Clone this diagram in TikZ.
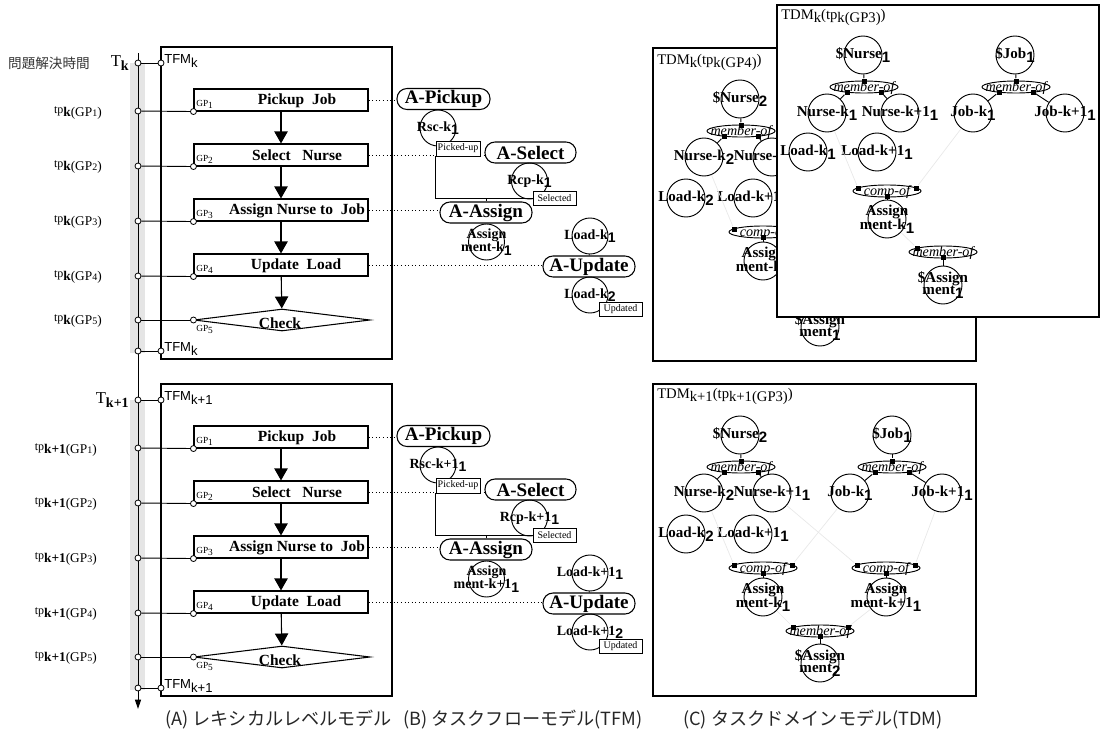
\documentclass[tikz,border=0pt]{standalone}
\usepackage{fontspec}
\setmainfont{Liberation Serif}
\setsansfont{Liberation Sans}
\newfontfamily\jpfont{Noto Sans CJK JP}
\usetikzlibrary{arrows.meta,shapes.geometric,calc}

\newcommand\px{*0.75pt}
\newcommand\sbs[1]{\raisebox{-0.45ex}{#1}}
\newcommand\csub[1]{\raisebox{-0.55ex}{\sffamily\bfseries #1}}
\newcommand\zb[1]{\smash{\makebox[0pt][c]{\raisebox{-0.3em}{#1}}}}
\newcommand\cl[1]{\makebox[0pt][c]{#1}}
\newcommand\cll[2]{\makebox[0pt][c]{\def\arraystretch{0.78}\begin{tabular}{@{}c@{}}#1\\#2\end{tabular}}}
\newcommand\tpl[2]{tp\raisebox{-0.55ex}{\fontsize{10}{10}\selectfont\textbf{#1}(GP{\fontsize{7.5}{8}\selectfont #2})}}

\tikzset{
 ln/.style={line width=0.7pt},
 tcirc/.style={circle, draw, fill=white, minimum size=6\px, inner sep=0pt, line width=0.6pt},
 tfmbox/.style={draw, line width=0.9pt, minimum width=231\px, minimum height=312\px, inner sep=0},
 gpbox/.style={draw, line width=0.8pt, minimum width=174\px, minimum height=22\px, inner sep=0},
 gptext/.style={font=\fontsize{11.6}{12}\selectfont\bfseries, inner sep=0},
 gplab/.style={font=\fontsize{7}{8}\selectfont, inner sep=0, anchor=west},
 tplab/.style={font=\fontsize{9}{10}\selectfont, inner sep=0, anchor=east},
 tfmlab/.style={font=\sffamily\fontsize{9.8}{10}\selectfont, inner sep=0, anchor=west},
 flow/.style={line width=0.8pt, -{Triangle[width=10pt,length=9pt]}},
 anode/.style={draw, line width=0.8pt, rounded corners=7.5pt, minimum height=21\px, minimum width=92\px, inner sep=0, font=\fontsize{14.3}{14}\selectfont\bfseries},
 bcirc/.style={circle, draw, line width=0.7pt, minimum size=36\px, inner sep=0, font=\fontsize{10.5}{11}\selectfont\bfseries},
 stbox/.style={draw, fill=white, line width=0.7pt, minimum width=43\px, minimum height=14\px, inner sep=0, font=\fontsize{7.5}{8}\selectfont},
 ccirc/.style={circle, draw, line width=0.7pt, minimum size=38\px, inner sep=0, font=\fontsize{11.3}{11}\selectfont\bfseries},
 rel/.style={ellipse, draw, fill=white, line width=0.7pt, minimum width=68\px, minimum height=12\px, inner sep=0, font=\fontsize{10.6}{10}\selectfont\itshape},
 sq/.style={rectangle, fill=black, minimum size=5\px, inner sep=0},
 faint/.style={draw=gray!18, line width=0.5pt},
 link/.style={line width=0.7pt},
 dots/.style={dotted, line width=0.7pt},
 tdmbox/.style={draw, line width=0.9pt, fill=white, inner sep=0},
 ttl/.style={anchor=west, inner sep=0, font=\fontsize{11}{11}\selectfont},
 captext/.style={anchor=west, inner sep=0, text=black!85, font=\jpfont\fontsize{13.6}{14}\selectfont},
}

\newcommand\halfblock[4]{%
\begin{scope}[shift={(0,#3)}]
 \node[tfmbox] (#2tfm) at (276.5,203) {};
 \node[gpbox] (#2g1) at (281,100) {};
 \node[gpbox] (#2g2) at (281,155) {};
 \node[gpbox] (#2g3) at (281,210) {};
 \node[gpbox] (#2g4) at (281,265) {};
 \node[diamond, draw, aspect=8, minimum width=176\px, minimum height=22\px, inner sep=0, line width=0.8pt] (#2g5) at (282,320) {};
 \node[gptext] (#2g1t) at (297,100.5) {Pickup\ \ Job};
 \node[gptext] (#2g2t) at (297,155.5) {Select\ \ \ Nurse};
 \node[gptext] (#2g3t) at (297,210.5) {Assign Nurse to\ \ Job};
 \node[gptext] (#2g4t) at (296,265.5) {Update\ \ Load};
 \node[gptext] (#2g5t) at (280,323) {Check};
 \draw[flow] (#2g1) -- (#2g2);
 \draw[flow] (#2g2) -- (#2g3);
 \draw[flow] (#2g3) -- (#2g4);
 \draw[flow] (#2g4) -- (#2g5);
 \node[gplab] (#2l1) at (196,104) {GP\sbs{1}};
 \node[gplab] (#2l2) at (196,159) {GP\sbs{2}};
 \node[gplab] (#2l3) at (196,214) {GP\sbs{3}};
 \node[gplab] (#2l4) at (196,269) {GP\sbs{4}};
 \node[gplab] (#2l5) at (196,329) {GP\sbs{5}};
 % time points
 \node[tcirc] (#2t0) at (138,63) {};
 \node[tcirc] (#2f0) at (161,63) {};
 \node[tcirc] (#2t1) at (138,111) {};
 \node[tcirc] (#2t2) at (138,166) {};
 \node[tcirc] (#2t3) at (138,221) {};
 \node[tcirc] (#2t4) at (138,276) {};
 \node[tcirc] (#2t5) at (138,320) {};
 \node[tcirc] (#2t6) at (138,351) {};
 \node[tcirc] (#2f6) at (161,351) {};
 \node[tcirc] (#2c1) at (#2g1.south west) {};
 \node[tcirc] (#2c2) at (#2g2.south west) {};
 \node[tcirc] (#2c3) at (#2g3.south west) {};
 \node[tcirc] (#2c4) at (#2g4.south west) {};
 \node[tcirc] (#2c5) at (#2g5.west) {};
 \draw[ln] (#2t0) -- (#2f0);
 \draw[ln] (#2t6) -- (#2f6);
 \draw[ln] (#2t1) -- (#2c1);
 \draw[ln] (#2t2) -- (#2c2);
 \draw[ln] (#2t3) -- (#2c3);
 \draw[ln] (#2t4) -- (#2c4);
 \draw[ln] (#2t5) -- (#2c5);
 \node[tfmlab] (#2fl0) at (164,61) {TFM\sbs{#1}};
 \node[tfmlab] (#2fl6) at (164,349) {TFM\sbs{#1}};
 \node[anchor=east, inner sep=0, font=\fontsize{12.5}{12}\selectfont] (#2T) at (129,63) {T\sbs{\fontsize{10.5}{10}\selectfont\textbf{#1}}};
 \node[tplab] (#2p1) at (#4,113) {\tpl{#1}{1}};
 \node[tplab] (#2p2) at (#4,167) {\tpl{#1}{2}};
 \node[tplab] (#2p3) at (#4,222) {\tpl{#1}{3}};
 \node[tplab] (#2p4) at (#4,277) {\tpl{#1}{4}};
 \node[tplab] (#2p5) at (#4,321) {\tpl{#1}{5}};
 % column B
 \node[anode, minimum width=93\px] (#2aP) at (443.5,99) {A-Pickup};
 \node[anode, minimum width=91\px] (#2aS) at (530.5,152.5) {A-Select};
 \node[anode] (#2aA) at (486,212.5) {A-Assign};
 \node[anode] (#2aU) at (589,266.5) {A-Update};
 \node[bcirc] (#2rsc) at (438,128) {\cl{Rsc-#1\csub{1}}};
 \node[bcirc] (#2rcp) at (529.5,181) {\cl{Rcp-#1\csub{1}}};
 \node[bcirc] (#2asg) at (486.5,242) {\cll{Assign}{ment-#1\csub{1}}};
 \node[bcirc] (#2ld1) at (590,236) {\cl{Load-#1\csub{1}}};
 \node[bcirc] (#2ld2) at (590,295) {\cl{Load-#1\csub{2}}};
 \draw[dots] (#2g1.east) -- (#2g1.east -| #2aP.west);
 \draw[dots] (#2g2.east) -- (#2g2.east -| #2aS.west);
 \draw[dots] (#2g3.east) -- (#2g3.east -| #2aA.west);
 \draw[dots] (#2g4.east) -- (#2g4.east -| #2aU.west);
 \node[stbox, minimum width=44\px, minimum height=15\px] (#2pk) at (458,148.5) {Picked-up};
 \node[stbox] (#2se) at (554.5,198) {Selected};
 \node[stbox] (#2up) at (620.5,309) {Updated};
 \draw[link] (#2pk.south west) |- (#2se.west);
 \coordinate (#2j) at (#2aA.north |- #2se.west);
 \draw[link] (#2aA) -- (#2j);
 \draw[link] (#2ld1) -- (#2aU);
\end{scope}}

\begin{document}
\begin{tikzpicture}[x=0.75pt,y=-0.75pt]
\useasboundingbox (0,0) rectangle (1101,739);
% gray bars
\fill[gray!20] (130,63) rectangle (145,353);
\fill[gray!20] (130,400) rectangle (145,690);
% axis
\coordinate (axtop) at (138,53);
\coordinate (axbot) at (138,709);
\draw[ln, -{Triangle[width=4.5pt,length=7pt]}] (axtop) -- (axbot);
\node[inner sep=0, text=black!80, font=\jpfont\fontsize{10.2}{11}\selectfont] (ylab) at (49,63) {問題解決時間};

\halfblock{k}{t}{0}{102}
\halfblock{k+1}{b}{337}{97}

% ===== back TDM box (GP4) =====
\node[tdmbox, minimum width=323\px, minimum height=313\px] (kbox) at (814.5,204.5) {};
\node[ttl] (kttl) at (657,62) {TDM\sbs{k}(tp\sbs{k(GP4)})};
\node[ccirc] (kN) at (740,99) {\cl{\$Nurse\csub{2}}};
\node[ccirc] (kNk) at (704,157) {\cl{Nurse-k\csub{2}}};
\node[ccirc] (kNk1) at (772,157) {\cl{Nurse-k+1\csub{1}}};
\node[ccirc] (kLk) at (686,198) {\cl{Load-k\csub{2}}};
\node[ccirc] (kLk1) at (753,198) {\cl{Load-k+1\csub{1}}};
\node[ccirc] (kA) at (763,261) {\cll{Assign}{ment-k\csub{1}}};
\node[ccirc] (kSA) at (820,327) {\cll{\$Assign}{ment\csub{1}}};
\node[rel] (km1) at (741,131) {\zb{member-of}};
\node[rel] (kc) at (763,232) {\zb{comp-of}};
\node[sq] (km1a) at ($(km1)+(0,-6)$) {};
\node[sq] (km1b) at ($(km1)+(-17,5)$) {};
\node[sq] (km1c) at ($(km1)+(17,5)$) {};
\node[sq] (kca) at ($(kc)+(-29,-3)$) {};
\node[sq] (kcc) at ($(kc)+(0,5)$) {};
\draw[link] (kN) -- (km1a);
\draw[link] (km1b) -- (kNk);
\draw[link] (km1c) -- (kNk1);
\draw[link] (kcc) -- (kA);
\draw[faint] (kNk) -- (kca);

% ===== front TDM box (GP3) =====
\node[tdmbox, minimum width=322\px, minimum height=312\px] (fbox) at (938,161) {};
\node[ttl] (fttl) at (781,17) {TDM\sbs{k}(tp\sbs{k(GP3)})};
\node[ccirc] (fN) at (863,55) {\cl{\$Nurse\csub{1}}};
\node[ccirc] (fJ) at (1015,55) {\cl{\$Job\csub{1}}};
\node[ccirc] (fNk) at (827,113) {\cl{Nurse-k\csub{1}}};
\node[ccirc] (fNk1) at (900,113) {\cl{Nurse-k+1\csub{1}}};
\node[ccirc] (fJk) at (973,113) {\cl{Job-k\csub{1}}};
\node[ccirc] (fJk1) at (1065,113) {\cl{Job-k+1\csub{1}}};
\node[ccirc] (fLk) at (808,152) {\cl{Load-k\csub{1}}};
\node[ccirc] (fLk1) at (877,152) {\cl{Load-k+1\csub{1}}};
\node[ccirc] (fA) at (887,219) {\cll{Assign}{ment-k\csub{1}}};
\node[ccirc] (fSA) at (943,285) {\cll{\$Assign}{ment\csub{1}}};
\node[rel] (fm1) at (864,87) {\zb{member-of}};
\node[rel] (fm2) at (1016,87) {\zb{member-of}};
\node[rel] (fc) at (887,191) {\zb{comp-of}};
\node[rel] (fm3) at (943,252) {\zb{member-of}};
\node[sq] (fm1a) at ($(fm1)+(0,-6)$) {};
\node[sq] (fm1b) at ($(fm1)+(-17,5)$) {};
\node[sq] (fm1c) at ($(fm1)+(17,5)$) {};
\node[sq] (fm2a) at ($(fm2)+(0,-6)$) {};
\node[sq] (fm2b) at ($(fm2)+(-17,5)$) {};
\node[sq] (fm2c) at ($(fm2)+(17,5)$) {};
\node[sq] (fca) at ($(fc)+(-29,-3)$) {};
\node[sq] (fcb) at ($(fc)+(29,-3)$) {};
\node[sq] (fcc) at ($(fc)+(0,5)$) {};
\node[sq] (fm3a) at ($(fm3)+(-26,-4)$) {};
\node[sq] (fm3c) at ($(fm3)+(0,5)$) {};
\draw[link] (fN) -- (fm1a);
\draw[link] (fJ) -- (fm2a);
\draw[link] (fm1b) -- (fNk);
\draw[link] (fm1c) -- (fNk1);
\draw[link] (fm2b) -- (fJk);
\draw[link] (fm2c) -- (fJk1);
\draw[link] (fcc) -- (fA);
\draw[link] (fm3c) -- (fSA);
\draw[faint] (fNk) -- (fca);
\draw[faint] (fJk) -- (fcb);
\draw[faint] (fA) -- (fm3a);

% ===== bottom TDM box =====
\node[tdmbox, minimum width=323\px, minimum height=312\px] (gbox) at (814.5,540) {};
\node[ttl] (gttl) at (657,396) {TDM\sbs{k+1}(tp\sbs{k+1(GP3)})};
\node[ccirc] (gN) at (740,435) {\cl{\$Nurse\csub{2}}};
\node[ccirc] (gJ) at (892,435) {\cl{\$Job\csub{1}}};
\node[ccirc] (gNk) at (704,493) {\cl{Nurse-k\csub{2}}};
\node[ccirc] (gNk1) at (772,493) {\cl{Nurse-k+1\csub{1}}};
\node[ccirc] (gJk) at (850,493) {\cl{Job-k\csub{1}}};
\node[ccirc] (gJk1) at (942,493) {\cl{Job-k+1\csub{1}}};
\node[ccirc] (gLk) at (686,534) {\cl{Load-k\csub{2}}};
\node[ccirc] (gLk1) at (753,534) {\cl{Load-k+1\csub{1}}};
\node[ccirc] (gA1) at (763,597) {\cll{Assign}{ment-k\csub{1}}};
\node[ccirc] (gA2) at (886,597) {\cll{Assign}{ment-k+1\csub{1}}};
\node[ccirc] (gSA) at (820,663) {\cll{\$Assign}{ment\csub{2}}};
\node[rel] (gm1) at (741,467) {\zb{member-of}};
\node[rel] (gm2) at (892,467) {\zb{member-of}};
\node[rel] (gc1) at (763,568) {\zb{comp-of}};
\node[rel] (gc2) at (886,568) {\zb{comp-of}};
\node[rel] (gm3) at (820,631) {\zb{member-of}};
\node[sq] (gm1a) at ($(gm1)+(0,-6)$) {};
\node[sq] (gm1b) at ($(gm1)+(-17,5)$) {};
\node[sq] (gm1c) at ($(gm1)+(17,5)$) {};
\node[sq] (gm2a) at ($(gm2)+(0,-6)$) {};
\node[sq] (gm2b) at ($(gm2)+(-17,5)$) {};
\node[sq] (gm2c) at ($(gm2)+(17,5)$) {};
\node[sq] (gc1a) at ($(gc1)+(-29,-3)$) {};
\node[sq] (gc1b) at ($(gc1)+(29,-3)$) {};
\node[sq] (gc1c) at ($(gc1)+(0,5)$) {};
\node[sq] (gc2a) at ($(gc2)+(-29,-3)$) {};
\node[sq] (gc2b) at ($(gc2)+(29,-3)$) {};
\node[sq] (gc2c) at ($(gc2)+(0,5)$) {};
\node[sq] (gm3a) at ($(gm3)+(-27,-4)$) {};
\node[sq] (gm3b) at ($(gm3)+(28,-4)$) {};
\node[sq] (gm3c) at ($(gm3)+(0,5)$) {};
\draw[link] (gN) -- (gm1a);
\draw[link] (gJ) -- (gm2a);
\draw[link] (gm1b) -- (gNk);
\draw[link] (gm1c) -- (gNk1);
\draw[link] (gm2b) -- (gJk);
\draw[link] (gm2c) -- (gJk1);
\draw[link] (gc1c) -- (gA1);
\draw[link] (gc2c) -- (gA2);
\draw[link] (gm3c) -- (gSA);
\draw[faint] (gNk) -- (gc1a);
\draw[faint] (gJk) -- (gc1b);
\draw[faint] (gNk1) -- (gc2a);
\draw[faint] (gJk1) -- (gc2b);
\draw[faint] (gA1) -- (gm3a);
\draw[faint] (gA2) -- (gm3b);

% captions
\node[captext] (capA) at (165,720) {(A) レキシカルレベルモデル};
\node[captext] (capB) at (403,720) {(B) タスクフローモデル(TFM)};
\node[captext] (capC) at (683,720) {(C) タスクドメインモデル(TDM)};
\end{tikzpicture}
\end{document}
